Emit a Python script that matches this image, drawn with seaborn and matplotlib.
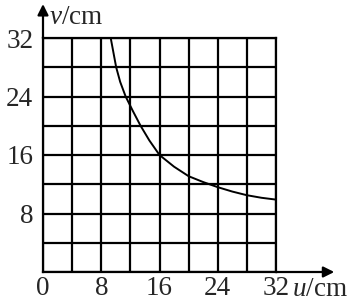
import matplotlib
matplotlib.use("Agg")
import matplotlib.pyplot as plt
import seaborn as sns

# data
u_vals = [9.3, 10.05, 10.6, 11.35, 12.35, 13.4, 14.6, 16.0, 18.0, 20.0, 22.0, 24.0, 26.0, 28.0, 30.0, 32.0]
v_vals = [32.0, 28.0, 26.0, 24.0, 22.0, 20.0, 18.0, 16.0, 14.4, 13.1, 12.3, 11.6, 11.0, 10.5, 10.15, 9.9]
x_tick_vals = [0, 8, 16, 24, 32]
x_tick_labels = ["0", "8", "16", "24", "32"]
y_tick_vals = [0, 8, 16, 24, 32]
y_tick_labels = ["", "8", "16", "24", "32"]
minor_vals = [4, 12, 20, 28]

sns.set_style("white")
plt.rcParams["font.family"] = ["Liberation Serif", "DejaVu Serif"]
plt.rcParams["mathtext.fontset"] = "custom"
plt.rcParams["mathtext.it"] = "Liberation Serif:italic"
plt.rcParams["mathtext.rm"] = "Liberation Serif"

fig = plt.figure(figsize=(3.58, 3.04), dpi=100)
W, H = 358, 304
x0, x1, y0, y1 = 43, 276, 38, 272
ax = fig.add_axes([x0 / W, 1 - y1 / H, (x1 - x0) / W, (y1 - y0) / H])

sns.lineplot(x=u_vals, y=v_vals, sort=False, estimator=None, color="black", lw=1.4, ax=ax)

ax.set_xlim(0, 32)
ax.set_ylim(0, 32)
ax.set_xticks(x_tick_vals)
ax.set_xticklabels(x_tick_labels)
ax.set_yticks(y_tick_vals)
ax.set_yticklabels(y_tick_labels)
ax.set_xticks(minor_vals, minor=True)
ax.set_yticks(minor_vals, minor=True)
ax.grid(True, which="both", color="black", lw=1.6)
ax.set_axisbelow(True)
ax.tick_params(which="both", length=0, labelsize=19.5)
ax.tick_params(axis="x", pad=3)
ax.tick_params(axis="y", pad=7)
for s in ax.spines.values():
    s.set_visible(True)
    s.set_color("black")
    s.set_linewidth(1.6)

arrow = dict(arrowstyle="-|>", lw=1.6, color="black", mutation_scale=16, shrinkA=0, shrinkB=0)
ax.annotate("", xy=(1.25, 0), xytext=(1.0, 0), xycoords="axes fraction",
            arrowprops=arrow, annotation_clip=False)
ax.annotate("", xy=(0, 1.145), xytext=(0, 1.0), xycoords="axes fraction",
            arrowprops=arrow, annotation_clip=False)

fig.text(49 / W, 1 - 18 / H, r"$v$/cm", fontsize=19.5, ha="left", va="center")
fig.text(292 / W, 1 - 289 / H, r"$u$/cm", fontsize=19.5, ha="left", va="center")

fig.savefig("out.png", dpi=100)
